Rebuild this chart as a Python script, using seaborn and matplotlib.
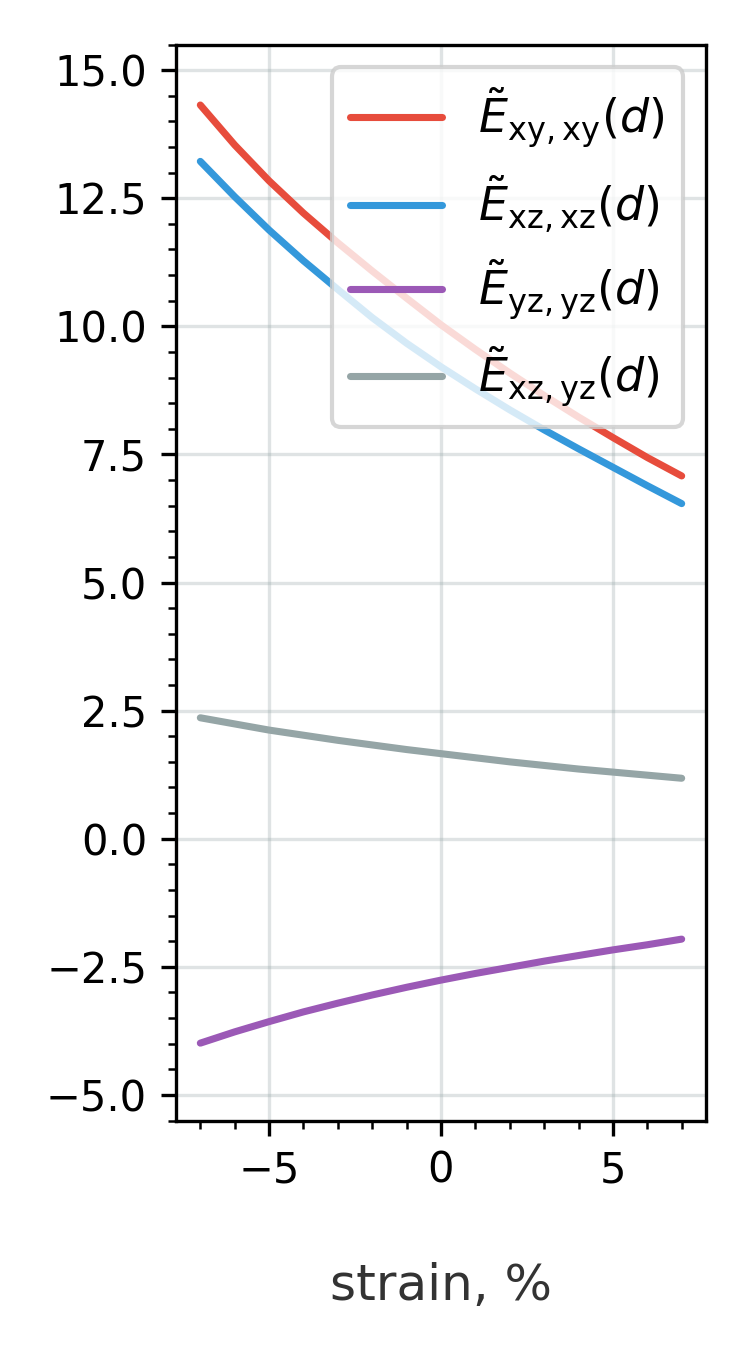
import pandas as pd
import matplotlib.pyplot as plt
import seaborn as sns

# strain values (%) and tensor components
strain = [-7, -6, -5, -4, -3, -2, -1, 0, 1, 2, 3, 4, 5, 6, 7]
e_xyxy = [14.32, 13.54, 12.84, 12.21, 11.63, 11.08, 10.55, 10.03, 9.55, 9.09, 8.65, 8.23, 7.83, 7.44, 7.08]
e_xzxz = [13.22, 12.53, 11.88, 11.28, 10.72, 10.17, 9.67, 9.21, 8.78, 8.37, 7.98, 7.61, 7.25, 6.89, 6.54]
e_yzyz = [-3.99, -3.77, -3.57, -3.38, -3.21, -3.05, -2.90, -2.76, -2.63, -2.51, -2.39, -2.28, -2.17, -2.07, -1.96]
e_xzyz = [2.36, 2.24, 2.12, 2.02, 1.92, 1.83, 1.74, 1.66, 1.58, 1.50, 1.43, 1.36, 1.30, 1.24, 1.18]

labels = [r'$\tilde{E}_{\mathrm{xy,xy}}(d)$',
          r'$\tilde{E}_{\mathrm{xz,xz}}(d)$',
          r'$\tilde{E}_{\mathrm{yz,yz}}(d)$',
          r'$\tilde{E}_{\mathrm{xz,yz}}(d)$']
colors = ['#e74c3c', '#3498db', '#9b59b6', '#95a5a6']

rows = []
for lab, vals in zip(labels, [e_xyxy, e_xzxz, e_yzyz, e_xzyz]):
    for s, v in zip(strain, vals):
        rows.append({'strain': s, 'E': v, 'comp': lab})
data = pd.DataFrame(rows)

# Impostazioni grafiche
sns.set_style("ticks", {"axes.edgecolor": "black",
                        "xtick.color": "black", "ytick.color": "black"})
plt.rcParams['font.family'] = ['DejaVu Sans']

fig, ax = plt.subplots(figsize=(2.5, 4.5), dpi=300)
fig.subplots_adjust(left=0.235, right=0.941, top=0.967, bottom=0.170)

sns.lineplot(data=data, x='strain', y='E', hue='comp', hue_order=labels,
             palette=colors, linewidth=1.7, ax=ax)

ax.set_ylim(-5.5, 15.5)
ax.minorticks_on()
ax.grid(True, which='major', color='#95a5a6', alpha=0.3, linewidth=0.8)
ax.tick_params(axis='both', which='major', labelsize=10, length=3.5, width=0.8)
ax.tick_params(axis='both', which='minor', length=2, width=0.6)
for sp in ax.spines.values():
    sp.set_linewidth(0.8)
    sp.set_color('black')

ax.set_xlabel("strain, %", fontsize=12, color='#333333', labelpad=17)
ax.set_ylabel("")
leg = ax.legend(loc='upper right', fontsize=11, framealpha=0.8, labelcolor='black')
for h in leg.get_lines():
    h.set_linewidth(1.7)

plt.savefig("out.png", dpi=300)
